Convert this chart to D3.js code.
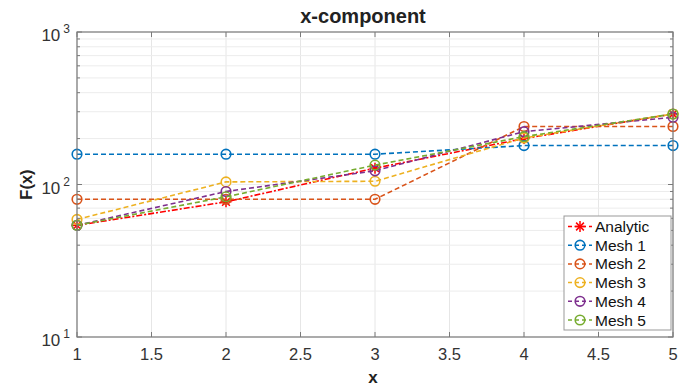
<!DOCTYPE html>
<html>
<head>
<meta charset="utf-8">
<script src="https://cdn.jsdelivr.net/npm/d3@7"></script>
<style>
  body { margin: 0; background: #fff; }
  svg { font-family: "Liberation Sans", Arial, sans-serif; }
</style>
</head>
<body>
<div id="chart"></div>
<script>
// data
const xs = [1, 2, 3, 4, 5];
const analytic = [54, 77, 128, 200, 290];
const mesh1 = [158, 158, 158, 180, 180];
const mesh2 = [80, 80, 80, 240, 240];
const mesh3 = [59, 104, 105, 202, 290];
const mesh4 = [54, 90, 123, 222, 276];
const mesh5 = [54, 83, 134, 206, 290];
const xTicks = [1, 1.5, 2, 2.5, 3, 3.5, 4, 4.5, 5];
const yDecades = [10, 100, 1000];

const series = [
  { name: 'Analytic', values: analytic, color: '#ff0000', marker: 'star' },
  { name: 'Mesh 1', values: mesh1, color: '#0072bd', marker: 'circle' },
  { name: 'Mesh 2', values: mesh2, color: '#d95319', marker: 'circle' },
  { name: 'Mesh 3', values: mesh3, color: '#edb120', marker: 'circle' },
  { name: 'Mesh 4', values: mesh4, color: '#7e2f8e', marker: 'circle' },
  { name: 'Mesh 5', values: mesh5, color: '#77ac30', marker: 'circle' }
];

const W = 679, H = 386;
const margin = { top: 32, right: 6, bottom: 49, left: 77 };
const w = W - margin.left - margin.right;
const h = H - margin.top - margin.bottom;

const svg = d3.select('#chart').append('svg')
  .attr('width', W).attr('height', H);

const g = svg.append('g')
  .attr('transform', `translate(${margin.left},${margin.top})`);

const x = d3.scaleLinear().domain([1, 5]).range([0, w]);
const y = d3.scaleLog().domain([10, 1000]).range([h, 0]);

// minor log ticks
const minor = [];
[10, 100].forEach(d => { for (let k = 2; k <= 9; k++) minor.push(d * k); });

// grid
const grid = g.append('g').attr('class', 'grid');
grid.selectAll('.gx').data(xTicks).join('line')
  .attr('x1', d => x(d)).attr('x2', d => x(d))
  .attr('y1', 0).attr('y2', h)
  .style('stroke', '#e6e6e6').style('stroke-width', 1);
grid.selectAll('.gy').data(minor.concat(yDecades)).join('line')
  .attr('x1', 0).attr('x2', w)
  .attr('y1', d => y(d)).attr('y2', d => y(d))
  .style('stroke', '#ececec').style('stroke-width', 1);

// series
const line = d3.line().x((d, i) => x(xs[i])).y(d => y(d));

function drawMarker(sel, s, cx, cy) {
  if (s.marker === 'circle') {
    sel.append('circle')
      .attr('cx', cx).attr('cy', cy).attr('r', 4.8)
      .style('fill', 'none').style('stroke', s.color).style('stroke-width', 1.6);
  } else {
    const r = 5.5;
    const gg = sel.append('g').attr('transform', `translate(${cx},${cy})`);
    [0, 45, 90, 135].forEach(a => {
      const rad = a * Math.PI / 180;
      gg.append('line')
        .attr('x1', -r * Math.cos(rad)).attr('y1', -r * Math.sin(rad))
        .attr('x2', r * Math.cos(rad)).attr('y2', r * Math.sin(rad))
        .style('stroke', s.color).style('stroke-width', 1.5);
    });
  }
}

series.forEach(s => {
  g.append('path')
    .datum(s.values)
    .attr('d', line)
    .style('fill', 'none')
    .style('stroke', s.color)
    .style('stroke-width', 1.6)
    .style('stroke-dasharray', s.marker === 'star' ? '6,2,2,2' : '5,3');
  s.values.forEach((v, i) => drawMarker(g, s, x(xs[i]), y(v)));
});

// frame + ticks
const axisColor = '#7a7a7a';
g.append('rect')
  .attr('x', 0).attr('y', 0).attr('width', w).attr('height', h)
  .style('fill', 'none').style('stroke', axisColor).style('stroke-width', 1.2);

const tl = 5, tlm = 3;
xTicks.forEach(d => {
  g.append('line').attr('x1', x(d)).attr('x2', x(d)).attr('y1', h).attr('y2', h - tl)
    .style('stroke', axisColor);
  g.append('line').attr('x1', x(d)).attr('x2', x(d)).attr('y1', 0).attr('y2', tl)
    .style('stroke', axisColor);
});
yDecades.forEach(d => {
  g.append('line').attr('x1', 0).attr('x2', tl).attr('y1', y(d)).attr('y2', y(d)).style('stroke', axisColor);
  g.append('line').attr('x1', w).attr('x2', w - tl).attr('y1', y(d)).attr('y2', y(d)).style('stroke', axisColor);
});
minor.forEach(d => {
  g.append('line').attr('x1', 0).attr('x2', tlm).attr('y1', y(d)).attr('y2', y(d)).style('stroke', axisColor);
  g.append('line').attr('x1', w).attr('x2', w - tlm).attr('y1', y(d)).attr('y2', y(d)).style('stroke', axisColor);
});

// tick labels
g.selectAll('.xl').data(xTicks).join('text')
  .attr('x', d => x(d)).attr('y', h + 23)
  .attr('text-anchor', 'middle')
  .style('font-size', '16.5px').style('fill', '#333')
  .text(d => d);

yDecades.forEach(d => {
  const t = g.append('text')
    .attr('x', -7).attr('y', y(d) + 9)
    .attr('text-anchor', 'end')
    .style('font-size', '17px').style('fill', '#333');
  t.append('tspan').text('10');
  t.append('tspan').attr('dx', 3).attr('dy', -8).style('font-size', '12px').text(Math.round(Math.log10(d)));
});

// titles
svg.append('text')
  .attr('x', 363).attr('y', 23)
  .attr('text-anchor', 'middle')
  .style('font-size', '20px').style('font-weight', 'bold').style('fill', '#222')
  .text('x-component');

svg.append('text')
  .attr('x', margin.left + w / 2 - 2).attr('y', 383)
  .attr('text-anchor', 'middle')
  .style('font-size', '17px').style('font-weight', 'bold').style('fill', '#222')
  .text('x');

svg.append('text')
  .attr('transform', `translate(32,${margin.top + y(100)}) rotate(-90)`)
  .attr('text-anchor', 'middle')
  .style('font-size', '16.5px').style('font-weight', 'bold').style('fill', '#222')
  .text('F(x)');

// legend
const lg = svg.append('g').attr('transform', 'translate(564,216)');
lg.append('rect')
  .attr('width', 107).attr('height', 114)
  .style('fill', '#fff').style('stroke', '#999').style('stroke-width', 1);
series.forEach((s, i) => {
  const cy = 10.5 + i * 18.7;
  lg.append('line')
    .attr('x1', 4).attr('x2', 28).attr('y1', cy).attr('y2', cy)
    .style('stroke', s.color).style('stroke-width', 1.5)
    .style('stroke-dasharray', '4,3');
  drawMarker(lg, s, 16, cy);
  lg.append('text')
    .attr('x', 31).attr('y', cy + 5.5)
    .style('font-size', '15.5px').style('fill', '#111')
    .text(s.name);
});
</script>
</body>
</html>
